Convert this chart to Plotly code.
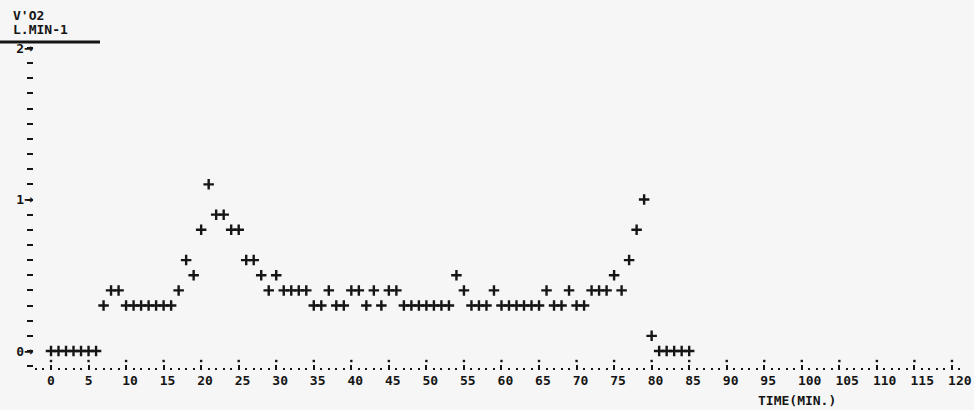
import plotly.graph_objects as go

# ---- data ----
minutes = list(range(0, 86))
vo2 = [0, 0, 0, 0, 0, 0, 0,            # 0-6
       0.3, 0.4, 0.4,                  # 7-9
       0.3, 0.3, 0.3, 0.3, 0.3, 0.3, 0.3,  # 10-16
       0.4, 0.6, 0.5, 0.8, 1.1, 0.9, 0.9, 0.8, 0.8,  # 17-25
       0.6, 0.6, 0.5, 0.4, 0.5,        # 26-30
       0.4, 0.4, 0.4, 0.4,             # 31-34
       0.3, 0.3, 0.4, 0.3, 0.3,        # 35-39
       0.4, 0.4, 0.3, 0.4, 0.3, 0.4, 0.4,  # 40-46
       0.3, 0.3, 0.3, 0.3, 0.3, 0.3, 0.3,  # 47-53
       0.5, 0.4, 0.3, 0.3, 0.3, 0.4,   # 54-59
       0.3, 0.3, 0.3, 0.3, 0.3, 0.3,   # 60-65
       0.4, 0.3, 0.3, 0.4, 0.3, 0.3,   # 66-71
       0.4, 0.4, 0.4, 0.5, 0.4, 0.6, 0.8, 1.0,  # 72-79
       0.1, 0, 0, 0, 0, 0]             # 80-85

x_ticks = list(range(0, 121, 5))
x_tick_labels = [str(v) for v in x_ticks]
y_minor_step = 0.1
y_major_ticks = [0, 1, 2]
y_major_labels = ["0", "1", "2"]
title_lines = ["V'O2", "L.MIN-1"]
x_title = "TIME(MIN.)"

# ---- layout geometry ----
W, H = 974, 410
L, R, T, B = 34, 966, 42, 370
px_per_min = 7.508
x0_px = 51
py_per_unit = 151.5
y0_px = 351
x_range = [(L - x0_px) / px_per_min, (R - x0_px) / px_per_min]
y_range = [(y0_px - B) / py_per_unit, (y0_px - T) / py_per_unit]

FONT = "DejaVu Sans Mono"
INK = "#151515"
BG = "#f6f6f6"
FS = 13


def pad_label(s):
    # labels in the printout start at the tick, so shift multi-digit ones right
    return "\u00a0" * (len(s) - 1) + s


def arrow_label(s):
    return s + "<span style='font-size:15px'>→</span>"


fig = go.Figure()

fig.add_trace(go.Scatter(
    x=minutes, y=vo2, mode="markers",
    marker=dict(symbol="cross-thin", size=7.5,
                line=dict(width=2.4, color=INK), color=INK),
    hoverinfo="x+y", showlegend=False,
))

# dots on top of the "i" tick marks
i_dot_y = (y0_px - 361) / py_per_unit
fig.add_trace(go.Scatter(
    x=x_ticks, y=[i_dot_y] * len(x_ticks), mode="markers",
    marker=dict(symbol="square", size=2.4, color=INK),
    hoverinfo="skip", showlegend=False,
))

fig.update_layout(
    xaxis=dict(
        range=x_range, showgrid=False, zeroline=False, showline=False,
        automargin=False, tickangle=0,
        tickmode="array", tickvals=x_ticks,
        ticktext=[pad_label(s) for s in x_tick_labels],
        ticks="inside", ticklen=5, tickwidth=2, tickcolor=INK,
        minor=dict(dtick=1, ticks="inside", ticklen=2, tickwidth=2,
                   tickcolor=INK, showgrid=False),
        tickfont=dict(family=FONT, size=FS, color=INK, weight="bold"),
        ticklabelstandoff=1,
    ),
    yaxis=dict(
        range=y_range, showgrid=False, zeroline=False, showline=False,
        automargin=False,
        tick0=0, dtick=y_minor_step, tickmode="linear",
        ticks="outside", ticklen=6, tickwidth=2, tickcolor=INK,
        showticklabels=False,
    ),
    yaxis2=dict(
        range=y_range, overlaying="y", side="left",
        showgrid=False, zeroline=False, showline=False, automargin=False,
        tickmode="array", tickvals=y_major_ticks,
        ticktext=[arrow_label(s) for s in y_major_labels],
        ticks="", ticklabelstandoff=0,
        tickfont=dict(family=FONT, size=FS, color=INK, weight="bold"),
    ),
)
# an invisible trace so the overlaying axis is drawn
fig.add_trace(go.Scatter(x=[None], y=[None], yaxis="y2", showlegend=False,
                         hoverinfo="skip"))

pw = R - L
ph = B - T
tfont = dict(family=FONT, size=FS, color=INK, weight="bold")
annotations = [
    dict(text=title_lines[0], x=(11 - L) / pw, y=(B - 15) / ph,
         xref="paper", yref="paper", xanchor="left", yanchor="middle",
         showarrow=False, font=tfont),
    dict(text=title_lines[1], x=(11 - L) / pw, y=(B - 30) / ph,
         xref="paper", yref="paper", xanchor="left", yanchor="middle",
         showarrow=False, font=tfont),
    dict(text=x_title, x=99.4, y=(B - 400) / ph,
         xref="x", yref="paper", xanchor="center", yanchor="middle",
         showarrow=False, font=tfont),
]

shapes = [
    dict(type="line", xref="paper", yref="paper",
         x0=(0 - L) / pw, x1=(100 - L) / pw, y0=(B - 42) / ph, y1=(B - 42) / ph,
         line=dict(color=INK, width=3)),
]

fig.update_layout(
    width=W, height=H,
    margin=dict(l=L, r=W - R, t=T, b=H - B, autoexpand=False),
    paper_bgcolor=BG, plot_bgcolor=BG,
    annotations=annotations, shapes=shapes,
    showlegend=False,
)

fig.write_html(
    "out.html",
    config={"displayModeBar": False},
    post_script="document.body.style.margin='0';"
                "document.body.style.overflow='hidden';"
                f"document.body.style.background='{BG}';",
)
